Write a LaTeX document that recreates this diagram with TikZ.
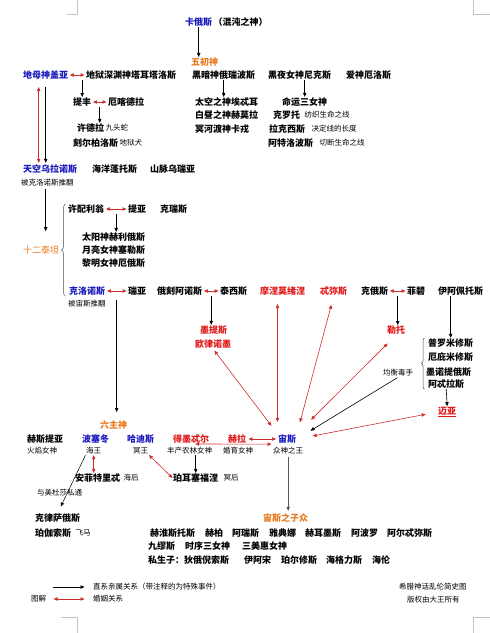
\documentclass[tikz,border=0pt]{standalone}
\usepackage{fontspec}
\setmainfont{Noto Sans CJK SC}
\usetikzlibrary{arrows.meta,calc,decorations.pathreplacing}
\definecolor{godblue}{RGB}{25,25,190}
\definecolor{godred}{RGB}{225,25,25}
\definecolor{godorange}{RGB}{232,122,30}
\definecolor{wedred}{RGB}{205,45,45}
\definecolor{markgray}{RGB}{195,195,195}
\tikzset{
  god/.style={anchor=west, inner sep=0.5pt, font=\bfseries\fontsize{9}{10}\selectfont},
  note/.style={anchor=west, inner sep=0.5pt, font=\fontsize{7.5}{8}\selectfont},
  group/.style={anchor=west, inner sep=0.5pt, text=godorange, font=\bfseries\fontsize{9}{10}\selectfont},
  blu/.style={text=godblue},
  rd/.style={text=godred},
  kin/.style={-{Triangle[length=4pt,width=3.4pt]}, line width=0.6pt},
  wed/.style={{Triangle[length=4pt,width=3.4pt]}-{Triangle[length=4pt,width=3.4pt]}, wedred, line width=0.6pt},
  gbrace/.style={decorate, decoration={brace, amplitude=4pt}, line width=0.5pt, black!70},
}
\begin{document}
\begin{tikzpicture}[x=1pt,y=-1pt]
  \useasboundingbox (0,0) rectangle (490,633);
  % page corner marks
  \draw[markgray, line width=0.5pt] (67,14) -- (77,14) -- (77,0);
  \draw[markgray, line width=0.5pt] (490,14) -- (473,14) -- (473,0);
  \draw[markgray, line width=0.5pt] (61,617) -- (77,617) -- (77,633);
  \draw[markgray, line width=0.5pt] (490,617) -- (473,617) -- (473,633);

  % chaos and the primordials
  \node[god,blu] (chaos) at (184.5,22) {卡俄斯};
  \node[god] (chaosnote) at (chaos.east) {（混沌之神）};
  \node[group] (wuchu) at (190.5,62) {五初神};
  \node[god,blu] (gaia) at (22.5,75) {地母神盖亚};
  \node[god] (tartarus) at (85.5,75) {地狱深渊神塔耳塔洛斯};
  \node[god] (erebus) at (191.5,75) {黑暗神俄瑞波斯};
  \node[god] (nyx) at (267.5,75) {黑夜女神尼克斯};
  \node[god] (eros) at (345.5,75) {爱神厄洛斯};

  \node[god] (typhon) at (72.5,102) {提丰};
  \node[god] (echidna) at (107.5,102) {厄喀德拉};
  \node[god] (hydra) at (76.5,128) {许德拉};
  \node[note] (hydranote) at (hydra.east) {九头蛇};
  \node[god] (cerberus) at (72.5,143) {刻尔柏洛斯};
  \node[note] (cerberusnote) at (cerberus.east) {地狱犬};

  \node[god] (aether) at (194.5,102) {太空之神埃忒耳};
  \node[god] (hemera) at (194.5,115) {白昼之神赫莫拉};
  \node[god] (charon) at (194.5,129) {冥河渡神卡戎};
  \node[god] (moirai) at (281.5,102) {命运三女神};
  \node[god] (clotho) at (272.5,115) {克罗托};
  \node[note] (clothonote) at ([xshift=3pt]clotho.east) {纺织生命之线};
  \node[god] (lachesis) at (268.5,129) {拉克西斯};
  \node[note] (lachesisnote) at ([xshift=5pt]lachesis.east) {决定线的长度};
  \node[god] (atropos) at (267.5,143) {阿特洛波斯};
  \node[note] (atroposnote) at ([xshift=5pt]atropos.east) {切断生命之线};

  \node[god,blu] (uranus) at (22.5,169) {天空乌拉诺斯};
  \node[note] (uranusnote) at (20.5,183) {被克洛诺斯推翻};
  \node[god] (pontus) at (91.5,169) {海洋蓬托斯};
  \node[god] (ourea) at (149.5,169) {山脉乌瑞亚};

  % titans
  \node[group, font=\fontsize{9}{10}\selectfont] (titans) at (22.5,250) {十二泰坦};
  \node[god] (hyperion) at (67.5,209) {许配利翁};
  \node[god] (theia) at (127.5,209) {提亚};
  \node[god] (crius) at (159.5,209) {克瑞斯};
  \node[god] (helios) at (81.5,237) {太阳神赫利俄斯};
  \node[god] (selene) at (81.5,250) {月亮女神塞勒斯};
  \node[god] (eos) at (81.5,263) {黎明女神厄俄斯};

  \node[god,blu] (cronus) at (68.5,291) {克洛诺斯};
  \node[note] (cronusnote) at (67.5,304) {被宙斯推翻};
  \node[god] (rhea) at (127.5,291) {瑞亚};
  \node[god] (oceanus) at (156.5,291) {俄刻阿诺斯};
  \node[god] (tethys) at (219.5,291) {泰西斯};
  \node[god,rd] (mnemosyne) at (259.5,291) {摩涅莫绪涅};
  \node[god,rd] (themis) at (319.5,291) {忒弥斯};
  \node[god] (coeus) at (360.5,291) {克俄斯};
  \node[god] (phoebe) at (406.5,291) {菲碧};
  \node[god] (iapetus) at (437.5,291) {伊阿佩托斯};

  \node[god,rd] (metis) at (199.5,330) {墨提斯};
  \node[god,rd] (eurynome) at (194.5,344) {欧律诺墨};
  \node[god,rd] (leto) at (386.5,330) {勒托};
  \node[god] (prometheus) at (427.5,343) {普罗米修斯};
  \node[god] (epimetheus) at (427.5,357) {厄庇米修斯};
  \node[god] (menoetius) at (425.5,372) {墨诺提俄斯};
  \node[god] (atlas) at (427.5,384) {阿忒拉斯};
  \node[note] (poison) at (382.5,373) {均衡毒手};
  \node[god,rd] (maia) at (437.5,412) {\underline{迈亚}};

  % olympians
  \node[group] (sixgods) at (99.5,425) {六主神};
  \node[god] (hestia) at (26.5,439) {赫斯提亚};
  \node[note] (hestianote) at (26.5,451) {火焰女神};
  \node[god,blu] (poseidon) at (81.5,439) {波塞冬};
  \node[note] (poseidonnote) at (85.5,451) {海王};
  \node[god,blu] (hades) at (126.5,439) {哈迪斯};
  \node[note] (hadesnote) at (132.5,451) {冥王};
  \node[god,rd] (demeter) at (172.5,439) {得墨忒尔};
  \node[note] (demeternote) at (166.5,451) {丰产农林女神};
  \node[god,rd] (hera) at (227.5,439) {赫拉};
  \node[note] (heranote) at (222.5,451) {婚育女神};
  \node[god,blu] (zeus) at (277.5,439) {宙斯};
  \node[note] (zeusnote) at (272.5,451) {众神之王};

  \node[god] (amphitrite) at (74.5,478) {安菲特里忒};
  \node[note] (amphitritenote) at ([xshift=2pt]amphitrite.east) {海后};
  \node[god] (persephone) at (172.5,478) {珀耳塞福涅};
  \node[note] (persephonenote) at ([xshift=4pt]persephone.east) {冥后};
  \node[note] (medusanote) at (36.5,493) {与美杜莎私通};
  \node[god] (chrysaor) at (34.5,518) {克律萨俄斯};
  \node[god] (pegasus) at (34.5,533) {珀伽索斯};
  \node[note] (pegasusnote) at ([xshift=3pt]pegasus.east) {飞马};

  % children of zeus
  \node[group] (sons) at (262.5,518) {宙斯之子众};
  \foreach \x/\t [count=\i] in {149.5/赫淮斯托斯, 204.5/赫柏, 231.5/阿瑞斯, 268.5/雅典娜,
      304.5/赫耳墨斯, 350.5/阿波罗, 386.5/阿尔忒弥斯}
    \node[god] (kida\i) at (\x,533) {\t};
  \foreach \x/\t [count=\i] in {147.5/九缪斯, 184.5/时序三女神, 241.5/三美惠女神}
    \node[god] (kidb\i) at (\x,546) {\t};
  \foreach \x/\t [count=\i] in {147.5/私生子：狄俄倪索斯, 243.5/伊阿宋, 280.5/珀尔修斯,
      325.5/海格力斯, 371.5/海伦}
    \node[god] (kidc\i) at (\x,560) {\t};

  % legend and credit
  \node[note] (kinlabel) at (92.5,587) {直系亲属关系（带注释的为特殊事件）};
  \node[note] (legend) at (30.5,599) {图解};
  \node[note] (wedlabel) at (92.5,599) {婚姻关系};
  \node[note] (title) at (398.5,587) {希腊神话乱伦简史图};
  \node[note] (credit) at (406.5,600) {版权由大王所有};

  % connectors, primordials
  \draw[kin] (chaos.south) -- (chaos.south |- wuchu.north);
  \draw[wed, shorten <=1pt, shorten >=1pt] (gaia.east) -- (tartarus.west);
  \draw[kin] (typhon.north |- tartarus.south) -- (typhon.north);
  \draw[wed, shorten <=1pt, shorten >=1pt] (typhon.east) -- (echidna.west);
  \coordinate (tyec) at ($(typhon.east)!.5!(echidna.west)$);
  \draw[kin] (tyec |- typhon.south) -- (tyec |- hydra.north);
  \draw[kin] (erebus.south) -- (erebus.south |- aether.north);
  \draw[kin] (moirai.north |- nyx.south) -- (moirai.north);
  \draw[wed, shorten <=7pt, shorten >=1pt] ([xshift=-7pt]gaia.south) -- ([xshift=-7pt]gaia.south |- uranus.north);
  \draw[kin, shorten <=7pt, shorten >=1pt] (gaia.south) -- (gaia.south |- uranus.north);
  \draw[kin, shorten <=2pt, shorten >=14pt] (gaia.south |- uranusnote.south) -- (gaia.south |- titans.north);

  % connectors, titans
  \draw[gbrace] ([xshift=-3pt]cronus.south west) -- ([xshift=-2pt]hyperion.north west);
  \draw[wed, shorten <=1pt, shorten >=1pt] (hyperion.east) -- (theia.west);
  \coordinate (hyth) at ($(hyperion.east)!.5!(theia.west)$);
  \draw[kin] (hyth |- hyperion.south) -- (hyth |- helios.north);
  \draw[wed, shorten <=1pt, shorten >=1pt] (cronus.east) -- (rhea.west);
  \draw[wed, shorten <=1pt, shorten >=1pt] (oceanus.east) -- (tethys.west);
  \draw[wed, shorten <=1pt, shorten >=1pt] (coeus.east) -- (phoebe.west);
  \coordinate (crrh) at ($(cronus.east)!.5!(rhea.west)$);
  \draw[kin, shorten >=8pt] (crrh |- cronusnote.north) -- (crrh |- sixgods.north);
  \coordinate (octe) at ($(oceanus.east)!.5!(tethys.west)$);
  \draw[kin] (octe |- oceanus.south) -- (octe |- metis.north);
  \coordinate (coph) at ($(coeus.east)!.5!(phoebe.west)$);
  \draw[kin] (coph |- coeus.south) -- (coph |- leto.north);
  \draw[kin] (prometheus.north |- iapetus.south) -- (prometheus.north);
  \draw[gbrace, decoration={brace, amplitude=3pt}] ([xshift=-3pt]atlas.south west) -- ([xshift=-3pt]prometheus.north west);
  \draw[kin] (atlas.south) -- (maia.north);

  % connectors, zeus
  \draw[wed, shorten <=2pt, shorten >=10pt] (eurynome.south) -- (zeus.north west);
  \draw[wed, shorten <=8pt, shorten >=12pt] (zeus.north west |- mnemosyne.south) -- (zeus.north west);
  \draw[wed, shorten <=9pt, shorten >=12pt] (themis.south) -- (zeus.north east);
  \draw[wed, shorten <=12pt, shorten >=20pt] (leto.south) -- (zeus.north east);
  \draw[kin, shorten <=1pt, shorten >=16pt] (poison.south) -- (zeus.east);
  \draw[wed, shorten <=12pt, shorten >=16pt] (maia.west) -- (zeus.east);
  \draw[wed, shorten <=1.5pt, shorten >=1.5pt] (hera.east) -- (zeus.west);
  \draw[wed, shorten >=6pt] ([xshift=4pt]demeter.south) -- (zeus.south west);

  % connectors, olympians
  \draw[wed] (poseidonnote.south) -- (poseidonnote.south |- amphitrite.north);
  \draw[wed] (hadesnote.south east) -- (persephone.west);
  \draw[kin] (persephone.north |- demeternote.south) -- (persephone.north);
  \draw[kin, line width=0.5pt, shorten >=7pt] (poseidonnote.south west) -- (chrysaor.north);
  \draw[kin, black!65, shorten <=2pt, shorten >=2pt] (zeusnote.south) -- (zeusnote.south |- sons.north);

  % legend arrows
  \draw[kin] ([xshift=-40pt]kinlabel.west) -- ([xshift=-8pt]kinlabel.west);
  \draw[wed] ([xshift=-39pt]wedlabel.west) -- ([xshift=-8pt]wedlabel.west);
\end{tikzpicture}
\end{document}
